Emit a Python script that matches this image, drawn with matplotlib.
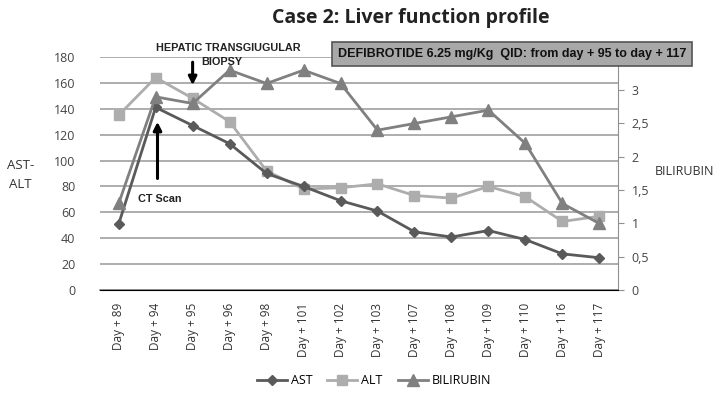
import matplotlib
matplotlib.use("Agg")
import matplotlib.pyplot as plt
from matplotlib.ticker import FuncFormatter

days = ["Day + 89", "Day + 94", "Day + 95", "Day + 96", "Day + 98", "Day + 101", "Day + 102",
        "Day + 103", "Day + 107", "Day + 108", "Day + 109", "Day + 110", "Day + 116", "Day + 117"]
ast = [51, 141, 127, 113, 90, 80, 69, 61, 45, 41, 46, 39, 28, 25]
alt = [135, 164, 148, 130, 92, 78, 79, 82, 73, 71, 80, 72, 53, 57]
bilirubin = [1.3, 2.9, 2.8, 3.3, 3.1, 3.3, 3.1, 2.4, 2.5, 2.6, 2.7, 2.2, 1.3, 1.0]

plt.rcParams['font.family'] = ['Open Sans', 'DejaVu Sans']

fig = plt.figure(figsize=(7.26, 4.03), dpi=100)
ax = fig.add_axes([0.138, 0.280, 0.713, 0.579])
ax2 = ax.twinx()

x = list(range(len(days)))
l1, = ax.plot(x, ast, color="#5a5a5a", marker="D", markersize=5.5, lw=2, label="AST", zorder=4)
l2, = ax.plot(x, alt, color="#adadad", marker="s", markersize=7.5, lw=2, label="ALT", zorder=3)
l3, = ax2.plot(x, bilirubin, color="#808080", marker="^", markersize=8, lw=2, label="BILIRUBIN", zorder=3)

ax.set_xlim(-0.5, len(days) - 0.5)
ax.set_ylim(0, 180)
ax.set_yticks(range(0, 181, 20))
ax2.set_ylim(0, 3.5)
ax2.set_yticks([0, 0.5, 1, 1.5, 2, 2.5, 3])
ax2.yaxis.set_major_formatter(FuncFormatter(lambda v, p: ("%g" % v).replace(".", ",")))

ax.grid(axis="y", color="#a0a0a0", lw=1.2)
ax.set_axisbelow(True)
for a in (ax, ax2):
    for s in ("top", "left", "right"):
        a.spines[s].set_visible(False)
ax2.spines["right"].set_visible(True)
ax2.spines["right"].set_color("#909090")
ax.spines["bottom"].set_color("#909090")
ax.spines["bottom"].set_linewidth(1.2)

ax.set_xticks(x)
ax.set_xticklabels(days, rotation=90, fontsize=8.5, color="#333333")
ax.tick_params(axis="x", length=0, pad=9)
ax.tick_params(axis="y", length=0, labelsize=9, colors="#444444", pad=18)
ax2.tick_params(axis="y", length=4, labelsize=9, colors="#444444", pad=6)
ax2.tick_params(axis="y", color="#909090")

fig.text(0.566, 0.955, "Case 2: Liver function profile", ha="center", va="center",
         fontsize=14, fontweight="bold", color="#222222")
fig.text(0.028, 0.565, "AST-\nALT", ha="center", va="center", fontsize=9.5,
         color="#333333", linespacing=1.6)
fig.text(0.902, 0.575, "BILIRUBIN", ha="left", va="center", fontsize=9, color="#333333")

fig.text(0.705, 0.866, "DEFIBROTIDE 6.25 mg/Kg  QID: from day + 95 to day + 117",
         ha="center", va="center", fontsize=9, fontweight="bold", color="#111111",
         family=["Liberation Sans", "DejaVu Sans"],
         bbox=dict(boxstyle="square,pad=0.45", facecolor="#a8a8a8", edgecolor="#555555", lw=1.2))

fig.text(0.314, 0.882, "HEPATIC TRANSGIUGULAR", ha="center", va="center", fontsize=7.8,
         fontweight="bold", color="#222222", family=["Liberation Sans", "DejaVu Sans"])
fig.text(0.306, 0.846, "BIOPSY", ha="center", va="center", fontsize=7.8,
         fontweight="bold", color="#222222", family=["Liberation Sans", "DejaVu Sans"])
ax.annotate("", xy=(2.0, 156), xytext=(2.0, 178),
            arrowprops=dict(arrowstyle="-|>", color="black", lw=2.2, mutation_scale=12))
ax.annotate("", xy=(1.05, 132), xytext=(1.05, 84),
            arrowprops=dict(arrowstyle="-|>", color="black", lw=2.2, mutation_scale=12))
ax.text(1.1, 70, "CT Scan", ha="center", va="center", fontsize=7.8, fontweight="bold",
        color="#222222", family=["Liberation Sans", "DejaVu Sans"])

fig.legend(handles=[l1, l2, l3], loc="center", bbox_to_anchor=(0.515, 0.055), ncol=3,
           frameon=False, fontsize=9, handlelength=2.4, columnspacing=1.2, handletextpad=0.3)

fig.savefig("out.png", dpi=100)
